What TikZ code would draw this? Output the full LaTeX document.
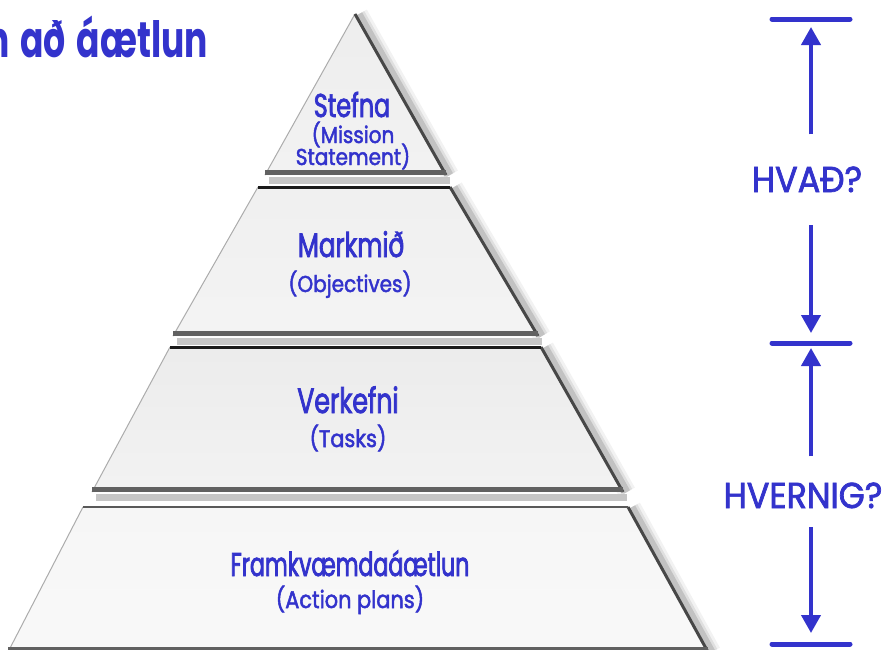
\documentclass[tikz,border=0pt]{standalone}
\usepackage{fontspec}
% label faces: same family, different widths
\newfontfamily\bigfont[FakeStretch=0.72,FakeBold=2.2]{Poppins}
\newfontfamily\longfont[FakeStretch=0.67,FakeBold=2.2]{Poppins}
\newfontfamily\smallfont[FakeStretch=0.87,FakeBold=2]{Poppins}
\newfontfamily\capfont[FakeStretch=0.93,FakeBold=2]{Poppins}
\newfontfamily\headfont[FakeStretch=0.69]{Poppins}
\newcommand\widespaces{\spaceskip=11pt\relax}
\usetikzlibrary{arrows.meta,calc}
\definecolor{ink}{RGB}{51,51,204}
\definecolor{tierline}{RGB}{26,26,26}

% one slice of the pyramid: #1 top-left, #2 top-right, #3 bottom-right, #4 bottom-left, #5 fill
\newcommand\pyrtier[5]{%
  \foreach \w/\o in {18/0.05,12/0.08,7/0.13}{%
    \draw[black,opacity=\o,line width=\w pt] ($(#2)+(4,0)$) -- ($(#3)+(4,0)$);}
  \draw[gray!45,line width=7pt] ($(#4)+(4,5)$) -- ($(#3)+(4,5)$);
  \shade[#5] (#1) -- (#2) -- (#3) -- (#4) -- cycle;
  \draw[gray!65,line width=1pt] (#1) -- (#4);
  \draw[black!72,line width=3pt] (#2) -- (#3);
  \draw[black!62,line width=5pt] ($(#4)+(0,-2.5)$) -- ($(#3)+(0,-2.5)$);
}

\tikzset{
  lbl/.style={text=ink, inner sep=0pt, anchor=base},
  barline/.style={draw=ink, line width=5pt, line cap=round},
  varrow/.style={draw=ink, line width=4pt, -{Triangle[width=19pt,length=18pt]}},
  topedge/.style={tierline, line width=3pt},
}

\begin{document}
\begin{tikzpicture}[x=1pt,y=-1pt]
\useasboundingbox (0,0) rectangle (889,649);
\clip (0,0) rectangle (889,649);
\fill[white] (0,0) rectangle (889,649);

% pyramid corners
\coordinate (apex) at (355,14);
\coordinate (s1bl) at (265,175); \coordinate (s1br) at (446,175);
\coordinate (s2tl) at (258,187); \coordinate (s2tr) at (450,187);
\coordinate (s2bl) at (173,336); \coordinate (s2br) at (538,336);
\coordinate (s3tl) at (170,347); \coordinate (s3tr) at (541,347);
\coordinate (s3bl) at (92,492);  \coordinate (s3br) at (623,492);
\coordinate (s4tl) at (83,507);  \coordinate (s4tr) at (628,507);
\coordinate (s4bl) at (8,652);   \coordinate (s4br) at (708,652);

\pyrtier{apex}{apex}{s1br}{s1bl}{top color=gray!14,bottom color=gray!10}
\pyrtier{s2tl}{s2tr}{s2br}{s2bl}{top color=gray!12,bottom color=gray!9}
\draw[topedge] (s2tl) -- (s2tr);
\pyrtier{s3tl}{s3tr}{s3br}{s3bl}{top color=gray!15,bottom color=gray!10}
\draw[topedge] (s3tl) -- (s3tr);
\pyrtier{s4tl}{s4tr}{s4br}{s4bl}{top color=gray!7,bottom color=gray!5}
\draw[black!65,line width=2pt] (s4tl) -- (s4tr);

% slice labels
\node[lbl, font=\bigfont\fontsize{33}{33}\selectfont] (stefna) at (352,117) {Stefna};
\node[lbl, font=\smallfont\fontsize{23}{23}\selectfont] (mission) at (353,143) {(Mission};
\node[lbl, font=\smallfont\fontsize{23}{23}\selectfont] (statement) at (353,165) {Statement)};
\node[lbl, font=\bigfont\fontsize{34}{34}\selectfont] (markmid) at (351,257) {Markmið};
\node[lbl, font=\smallfont\fontsize{23}{23}\selectfont] (objectives) at (350,292) {(Objectives)};
\node[lbl, font=\bigfont\fontsize{35}{35}\selectfont] (verkefni) at (348,413) {Verkefni};
\node[lbl, font=\smallfont\fontsize{24}{24}\selectfont] (tasks) at (348,447) {(Tasks)};
\node[lbl, font=\longfont\fontsize{33}{33}\selectfont] (framkv) at (350,576) {Framkvæmdaáætlun};
\node[lbl, font=\smallfont\fontsize{24}{24}\selectfont] (action) at (350,608) {(Action plans)};

% heading, running off the left edge
\node[lbl, anchor=base east, font=\headfont\bfseries\fontsize{50}{50}\selectfont] (title) at (208,57) {\widespaces n að áætlun};

% what / how scale
\coordinate (bar1) at (811,19);
\coordinate (bar2) at (811,343);
\coordinate (bar3) at (811,644);
\foreach \b in {bar1,bar2,bar3}{
  \draw[barline] ($(\b)+(-39,0)$) -- ($(\b)+(39,0)$);}

\node[lbl, font=\capfont\fontsize{36}{36}\selectfont] (hvad) at (807,192) {HVAÐ?};
\node[lbl, font=\capfont\fontsize{36}{36}\selectfont] (hvernig) at (803,508) {HVERNIG?};

\draw[varrow, shorten <=32pt, shorten >=8pt] (hvad.north -| bar1) -- (bar1);
\draw[varrow, shorten <=33pt, shorten >=10pt] (hvad.south -| bar2) -- (bar2);
\draw[varrow, shorten <=26pt, shorten >=5pt] (hvernig.north -| bar2) -- (bar2);
\draw[varrow, shorten <=19pt, shorten >=11pt] (hvernig.south -| bar3) -- (bar3);
\end{tikzpicture}
\end{document}
